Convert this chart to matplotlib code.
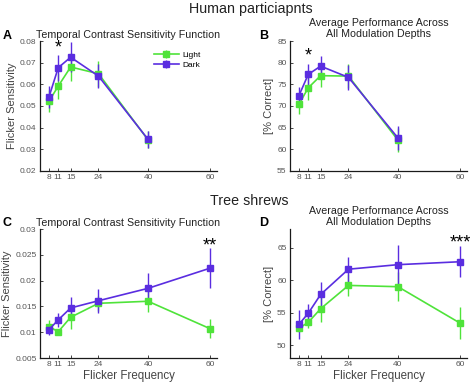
import matplotlib
matplotlib.use("Agg")
import matplotlib.pyplot as plt

plt.rcParams['font.family'] = ['Liberation Sans', 'DejaVu Sans']

freqs = [8, 11, 15, 24, 40, 60]
human_freqs = [8, 11, 15, 24, 40]

# Human A: flicker sensitivity
hA_light = [0.0522, 0.0592, 0.0680, 0.0649, 0.0344]
hA_light_err = [0.0050, 0.0060, 0.0065, 0.0060, 0.0040]
hA_dark = [0.0542, 0.0677, 0.0725, 0.0638, 0.0346]
hA_dark_err = [0.0050, 0.0060, 0.0070, 0.0055, 0.0040]

# Human B: % correct
hB_light = [70.4, 74.2, 77.0, 76.9, 62.1]
hB_light_err = [2.3, 2.8, 2.7, 2.8, 2.8]
hB_dark = [72.4, 77.3, 79.2, 76.6, 62.6]
hB_dark_err = [2.0, 2.5, 2.4, 2.8, 2.8]

# Tree shrews C: flicker sensitivity
tC_light = [0.0111, 0.0101, 0.0129, 0.0156, 0.0160, 0.0107]
tC_light_err = [0.0012, 0.0004, 0.0023, 0.0015, 0.0021, 0.0018]
tC_dark = [0.0105, 0.0124, 0.0147, 0.0161, 0.0185, 0.0224]
tC_dark_err = [0.0010, 0.0013, 0.0022, 0.0023, 0.0030, 0.0039]

# Tree shrews D: % correct
tD_light = [52.6, 53.5, 55.6, 59.2, 59.0, 53.4]
tD_light_err = [0.6, 0.8, 2.0, 1.7, 2.2, 2.5]
tD_dark = [53.2, 54.9, 57.8, 61.7, 62.4, 62.85]
tD_dark_err = [2.2, 1.5, 2.0, 1.9, 3.0, 2.4]

GREEN = '#4fe33a'
PURPLE = '#5a2de0'
TICKC = '#555555'

fig = plt.figure(figsize=(4.73, 3.92), dpi=100)

W = 0.3742
pos = {
    'A': [0.0846, 0.5638, W, 0.3316],
    'B': [0.6131, 0.5638, W, 0.3316],
    'C': [0.0846, 0.0867, W, 0.3291],
    'D': [0.6131, 0.0867, W, 0.3291],
}

def style(ax, ylim, yticks, yticklabels, ylabel, xlabel=None):
    ax.set_xlim(5.1, 62.3)
    ax.set_ylim(*ylim)
    ax.set_xticks(freqs)
    ax.set_xticklabels([str(f) for f in freqs])
    ax.set_yticks(yticks)
    ax.set_yticklabels(yticklabels)
    for s in ['top', 'right']:
        ax.spines[s].set_visible(False)
    for s in ['left', 'bottom']:
        ax.spines[s].set_color('#1a1a1a')
        ax.spines[s].set_linewidth(0.9)
    ax.tick_params(direction='in', length=2, width=0.6, labelsize=6,
                   colors='#262626', labelcolor=TICKC, pad=2.5)
    ax.set_ylabel(ylabel, fontsize=8, color='#444444', labelpad=2)
    if xlabel:
        ax.set_xlabel(xlabel, fontsize=8.3, color='#444444', labelpad=1)

def plot_series(ax, x, y, e, color, label):
    ax.errorbar(x, y, yerr=e, color=color, marker='s', markersize=3.8,
                linewidth=1.2, elinewidth=1.0, capsize=0, label=label)

axA = fig.add_axes(pos['A'])
plot_series(axA, human_freqs, hA_light, hA_light_err, GREEN, 'Light')
plot_series(axA, human_freqs, hA_dark, hA_dark_err, PURPLE, 'Dark')
style(axA, (0.02, 0.08), [0.02, 0.03, 0.04, 0.05, 0.06, 0.07, 0.08],
      ['0.02', '0.03', '0.04', '0.05', '0.06', '0.07', '0.08'], 'Flicker Sensitivity')
axA.set_title('Temporal Contrast Sensitivity Function', fontsize=7.7, pad=2, color='#222222')
axA.text(11, 0.0768, '*', ha='center', va='center', fontsize=13)
leg = axA.legend(loc='upper left', bbox_to_anchor=(0.6, 0.98), frameon=False,
                 fontsize=6, handlelength=3.0, labelspacing=0.25, handletextpad=0.4)

axB = fig.add_axes(pos['B'])
plot_series(axB, human_freqs, hB_light, hB_light_err, GREEN, 'Light')
plot_series(axB, human_freqs, hB_dark, hB_dark_err, PURPLE, 'Dark')
style(axB, (55, 85), [55, 60, 65, 70, 75, 80, 85],
      ['55', '60', '65', '70', '75', '80', '85'], '[% Correct]')
axB.set_title('Average Performance Across\nAll Modulation Depths', fontsize=7.7, pad=3,
              color='#222222', linespacing=1.1)
axB.text(11, 81.6, '*', ha='center', va='center', fontsize=13)

axC = fig.add_axes(pos['C'])
plot_series(axC, freqs, tC_light, tC_light_err, GREEN, 'Light')
plot_series(axC, freqs, tC_dark, tC_dark_err, PURPLE, 'Dark')
style(axC, (0.005, 0.03), [0.005, 0.01, 0.015, 0.02, 0.025, 0.03],
      ['0.005', '0.01', '0.015', '0.02', '0.025', '0.03'], 'Flicker Sensitivity',
      'Flicker Frequency')
axC.set_title('Temporal Contrast Sensitivity Function', fontsize=7.7, pad=2, color='#222222')
axC.text(60, 0.0268, '**', ha='center', va='center', fontsize=13)

axD = fig.add_axes(pos['D'])
plot_series(axD, freqs, tD_light, tD_light_err, GREEN, 'Light')
plot_series(axD, freqs, tD_dark, tD_dark_err, PURPLE, 'Dark')
style(axD, (48, 67.9), [50, 55, 60, 65], ['50', '55', '60', '65'], '[% Correct]',
      'Flicker Frequency')
axD.set_title('Average Performance Across\nAll Modulation Depths', fontsize=7.7, pad=3,
              color='#222222', linespacing=1.1)
axD.text(60, 65.7, '***', ha='center', va='center', fontsize=13, clip_on=False)

fig.text(0.531, 0.976, 'Human particiapnts', ha='center', va='center', fontsize=10.3, color='#222222')
fig.text(0.528, 0.488, 'Tree shrews', ha='center', va='center', fontsize=10.3, color='#222222')
for lbl, x, y in [('A', 0.006, 0.908), ('B', 0.547, 0.908), ('C', 0.006, 0.430), ('D', 0.547, 0.432)]:
    fig.text(x, y, lbl, fontsize=9, fontweight='bold', ha='left', va='center')

fig.savefig('out.png', dpi=100)
